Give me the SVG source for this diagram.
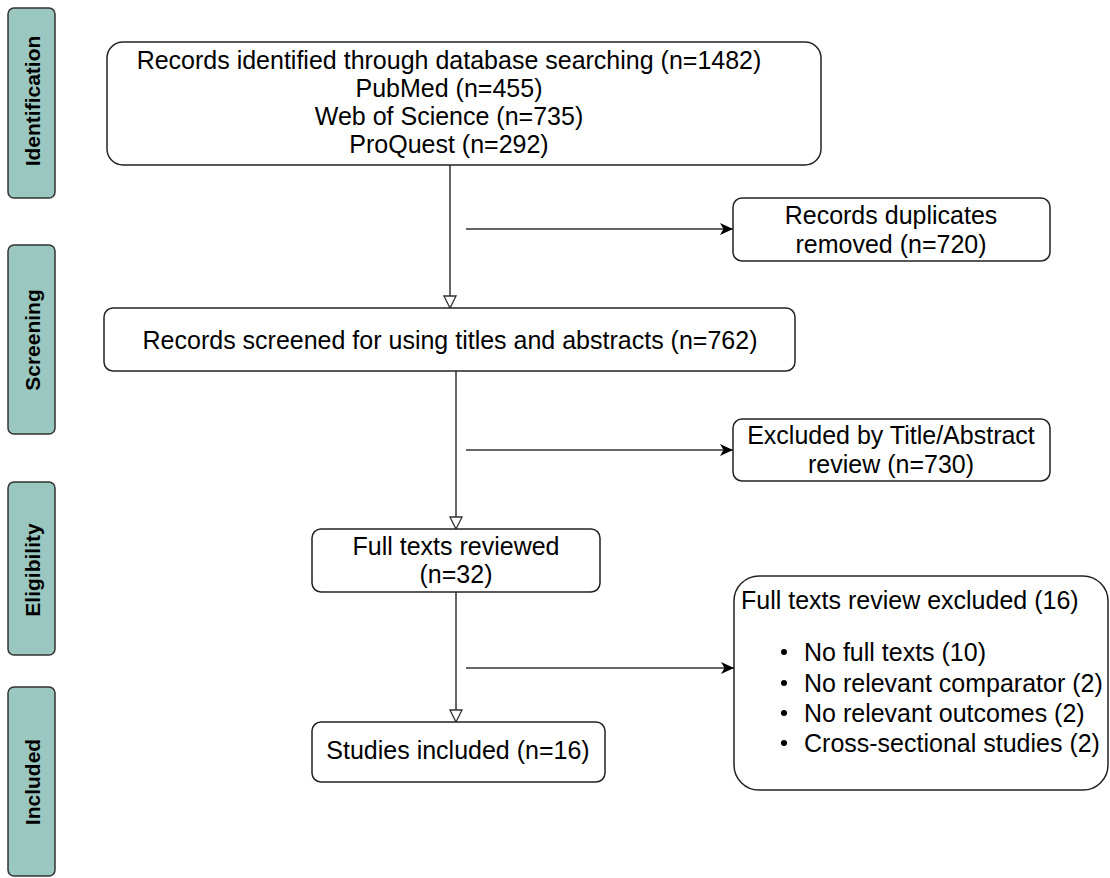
<svg xmlns="http://www.w3.org/2000/svg" width="1110" height="878" viewBox="0 0 1110 878">
<style>
.phase{fill:#9ac7bf;stroke:#333;stroke-width:1.5}
.phase-t{font-family:"Liberation Sans",Arial,sans-serif;font-weight:bold;font-size:21px;fill:#000;text-anchor:middle;dominant-baseline:central}
.box{fill:#fff;stroke:#222;stroke-width:1.5}
.t{font-family:"Liberation Sans",Arial,sans-serif;font-size:25px;fill:#000;text-anchor:middle;dominant-baseline:central}
.tl{font-family:"Liberation Sans",Arial,sans-serif;font-size:25px;fill:#000;dominant-baseline:central}
.ln{stroke:#333;stroke-width:1.5;fill:none}
</style>
<defs>
<marker id="open" viewBox="0 0 14 14" refX="13" refY="7" markerWidth="14" markerHeight="14" markerUnits="userSpaceOnUse" orient="auto">
<path d="M1,1 L13,7 L1,13 Z" fill="#fff" stroke="#333" stroke-width="1.3"/>
</marker>
<marker id="solid" viewBox="0 0 14 14" refX="13" refY="7" markerWidth="14" markerHeight="14" markerUnits="userSpaceOnUse" orient="auto">
<path d="M0,1 L13,7 L0,13 L3.5,7 Z" fill="#000" stroke="none"/>
</marker>
</defs>
<g id="phase-identification"><rect class="phase" x="8" y="8" width="47" height="190" rx="6"/><text class="phase-t" transform="translate(32,101) rotate(-90)">Identification</text></g>
<g id="phase-screening"><rect class="phase" x="8" y="245" width="47" height="189" rx="6"/><text class="phase-t" transform="translate(32,340) rotate(-90)">Screening</text></g>
<g id="phase-eligibility"><rect class="phase" x="8" y="482" width="47" height="173" rx="6"/><text class="phase-t" transform="translate(32,570) rotate(-90)">Eligibility</text></g>
<g id="phase-included"><rect class="phase" x="8" y="687" width="47" height="189" rx="6"/><text class="phase-t" transform="translate(32,782) rotate(-90)">Included</text></g>

<g id="connectors">
<line class="ln" x1="450" y1="165" x2="450" y2="308" marker-end="url(#open)"/>
<line class="ln" x1="466" y1="229" x2="733" y2="229" marker-end="url(#solid)"/>
<line class="ln" x1="456" y1="371" x2="456" y2="529" marker-end="url(#open)"/>
<line class="ln" x1="466" y1="450" x2="733" y2="450" marker-end="url(#solid)"/>
<line class="ln" x1="456" y1="592" x2="456" y2="722" marker-end="url(#open)"/>
<line class="ln" x1="466" y1="668" x2="734" y2="668" marker-end="url(#solid)"/>
</g>

<g id="node-identified"><rect class="box" x="107" y="42" width="714" height="123" rx="16"/>
<text class="t" x="449" y="60">Records identified through database searching (n=1482)</text>
<text class="t" x="449" y="88">PubMed (n=455)</text>
<text class="t" x="449" y="116">Web of Science (n=735)</text>
<text class="t" x="449" y="144">ProQuest (n=292)</text></g>

<g id="node-duplicates"><rect class="box" x="733" y="198" width="317" height="63" rx="9"/>
<text class="t" x="891" y="215">Records duplicates</text>
<text class="t" x="891" y="244">removed (n=720)</text></g>

<g id="node-screened"><rect class="box" x="104" y="308" width="691" height="63" rx="9"/>
<text class="t" x="450" y="340">Records screened for using titles and abstracts (n=762)</text></g>

<g id="node-excluded-ta"><rect class="box" x="733" y="419" width="317" height="62" rx="9"/>
<text class="t" x="891" y="435">Excluded by Title/Abstract</text>
<text class="t" x="891" y="464">review (n=730)</text></g>

<g id="node-fulltexts"><rect class="box" x="312" y="529" width="288" height="63" rx="9"/>
<text class="t" x="456" y="546">Full texts reviewed</text>
<text class="t" x="456" y="574">(n=32)</text></g>

<g id="node-excluded-ft"><rect class="box" x="734" y="576" width="374" height="214" rx="25"/>
<text class="tl" x="741" y="600">Full texts review excluded (16)</text>
<circle cx="784" cy="652" r="3"/><text class="tl" x="804" y="652">No full texts (10)</text>
<circle cx="784" cy="683" r="3"/><text class="tl" x="804" y="683">No relevant comparator (2)</text>
<circle cx="784" cy="713" r="3"/><text class="tl" x="804" y="713">No relevant outcomes (2)</text>
<circle cx="784" cy="743" r="3"/><text class="tl" x="804" y="743">Cross-sectional studies (2)</text></g>

<g id="node-included"><rect class="box" x="312" y="722" width="293" height="60" rx="9"/>
<text class="t" x="458" y="750">Studies included (n=16)</text></g>
</svg>
